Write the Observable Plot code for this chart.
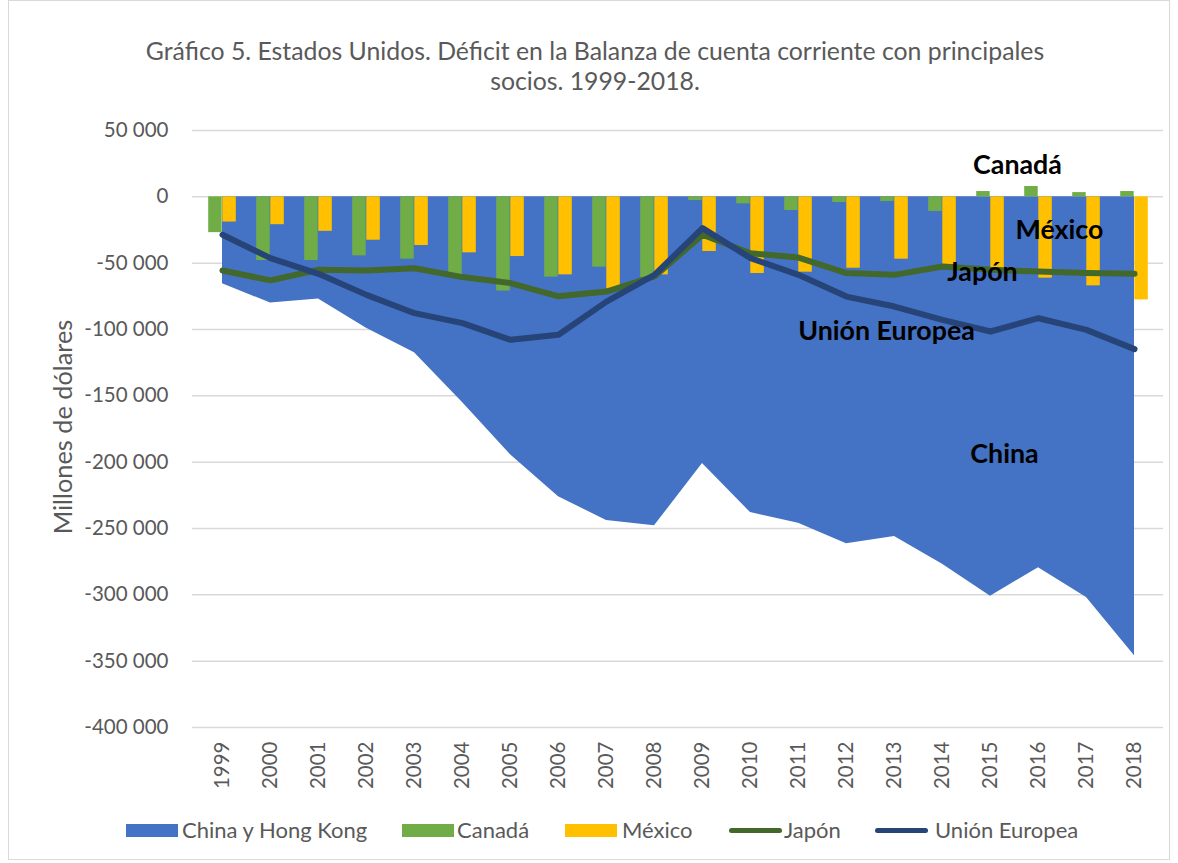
<!DOCTYPE html>
<html><head><meta charset="utf-8">
<script src="https://cdn.jsdelivr.net/npm/d3@7"></script>
<script src="https://cdn.jsdelivr.net/npm/@observablehq/plot@0.6"></script>
<style>
body{margin:0;background:#fff;font-family:Lato,"Open Sans",sans-serif;}
#frame{position:absolute;left:8px;top:0;width:1160px;height:858px;border:1px solid #d9d9d9;}
#title{position:absolute;left:0;top:36px;width:1190px;text-align:center;font-size:24.8px;line-height:30px;color:#595959;}
#chart{position:absolute;left:0;top:100px;}
.li{position:absolute;top:817px;font-size:22px;color:#595959;line-height:26px;white-space:nowrap;}
.sw{position:absolute;}
</style></head>
<body>
<div id="frame"></div>
<div id="title">Gráfico 5. Estados Unidos. Déficit en la Balanza de cuenta corriente con principales<br>socios. 1999-2018.</div>
<div id="chart"></div>
<div id="legend"></div>
<script>
const years = [1999,2000,2001,2002,2003,2004,2005,2006,2007,2008,2009,2010,2011,2012,2013,2014,2015,2016,2017,2018];
const chinaHK = [-65600,-80000,-77000,-99000,-117600,-155000,-194500,-226000,-244000,-248000,-201000,-238000,-246000,-261500,-256000,-277000,-301000,-279500,-302000,-346000];
const canada = [-27000,-48000,-48000,-44500,-47000,-59000,-71000,-60500,-53000,-61000,-2800,-5300,-10300,-4300,-3500,-11000,4000,7800,3200,4000];
const mexico = [-19000,-21000,-26000,-32700,-36700,-42200,-45000,-58800,-69400,-58800,-41200,-57800,-56800,-53800,-47000,-51000,-54000,-61300,-67100,-77700];
const japon = [-55500,-63000,-55000,-55500,-53800,-60500,-65000,-75000,-71400,-60000,-28600,-42500,-45800,-57500,-58800,-52500,-55000,-56300,-57500,-58000];
const unionEuropea = [-28600,-46200,-58000,-73900,-87700,-95200,-107800,-104000,-79000,-58800,-23600,-46200,-58800,-75200,-82700,-92700,-101500,-91500,-100300,-114800];
const yTicks = [50000,0,-50000,-100000,-150000,-200000,-250000,-300000,-350000,-400000];
const seriesNames = ["China y Hong Kong","Canadá","México","Japón","Unión Europea"];
const seriesColors = ["#4472C4","#70AD47","#FFC000","#43682B","#264478"];
const labelTexts = ["Canadá","México","Japón","Unión Europea","China"];
const labelYears = ["2016","2016","2015","2013","2015"];
const labelValues = [24000,-25000,-57300,-101800,-194500];
const labelDx = [-21,21,-8,-8,14];

const rows = years.map((y,i)=>({year:String(y), china:chinaHK[i], canada:canada[i], mexico:mexico[i], japon:japon[i], ue:unionEuropea[i]}));
const labels = labelTexts.map((t,i)=>({text:t, year:labelYears[i], value:labelValues[i], dx:labelDx[i]}));
const fmt = d3.formatLocale({decimal:",", thousands:" ", grouping:[3], currency:["",""], minus:"-"}).format(",");

const chart = Plot.plot({
  width:1178, height:697,
  marginLeft:192, marginRight:15, marginTop:30, marginBottom:70,
  style:{fontFamily:'Lato,"Open Sans",sans-serif', fontSize:"20.5px", color:"#595959", background:"transparent"},
  x:{type:"band", domain:years.map(String), padding:0},
  y:{domain:[-400000,50000]},
  marks:[
    Plot.gridY(yTicks, {stroke:"#d9d9d9", strokeOpacity:1, strokeWidth:1.5}),
    Plot.areaY(rows, {x:"year", y1:0, y2:"china", fill:seriesColors[0]}),
    Plot.barY(rows, {x:"year", y1:0, y2:"canada", fill:seriesColors[1], insetLeft:10.2, insetRight:24.3}),
    Plot.barY(rows, {x:"year", y1:0, y2:"mexico", fill:seriesColors[2], insetLeft:24.3, insetRight:10.2}),
    Plot.line(rows, {x:"year", y:"japon", stroke:seriesColors[3], strokeWidth:6, strokeLinejoin:"round", strokeLinecap:"round"}),
    Plot.line(rows, {x:"year", y:"ue", stroke:seriesColors[4], strokeWidth:6, strokeLinejoin:"round", strokeLinecap:"round"}),
    ...labels.map(l => Plot.text([l], {x:"year", y:"value", text:"text", dx:l.dx, fontWeight:"bold", fontSize:26.8, fill:"#000"})),
    Plot.axisY(yTicks, {tickSize:0, tickPadding:24, tickFormat:fmt, label:null, fontSize:20.5}),
    Plot.axisX({tickSize:0, tickRotate:-90, tickPadding:14, label:null, fontSize:20.5}),
    Plot.text(["Millones de dólares"], {frameAnchor:"left", textAnchor:"middle", rotate:-90, dx:-129, dy:-2, fontSize:25.3, fill:"#595959"})
  ]
});
document.getElementById("chart").appendChild(chart);

// legend
const legendPos = [{sx:126,tx:182,kind:"rect"},{sx:402,tx:457,kind:"rect"},{sx:565,tx:622,kind:"rect"},{sx:729,tx:784,kind:"line"},{sx:875,tx:935,kind:"line"}];
const lg = document.getElementById("legend");
seriesNames.forEach((n,i)=>{
  const p = legendPos[i];
  const sw = document.createElement("div");
  sw.className="sw";
  if (p.kind==="rect"){ Object.assign(sw.style,{left:p.sx+"px",top:"824px",width:"52px",height:"13px",background:seriesColors[i]}); }
  else { Object.assign(sw.style,{left:p.sx+"px",top:"828px",width:"53px",height:"5px",background:seriesColors[i],borderRadius:"3px"}); }
  lg.appendChild(sw);
  const t = document.createElement("div");
  t.className="li"; t.style.left=p.tx+"px"; t.textContent=n;
  lg.appendChild(t);
});
</script>
</body></html>
